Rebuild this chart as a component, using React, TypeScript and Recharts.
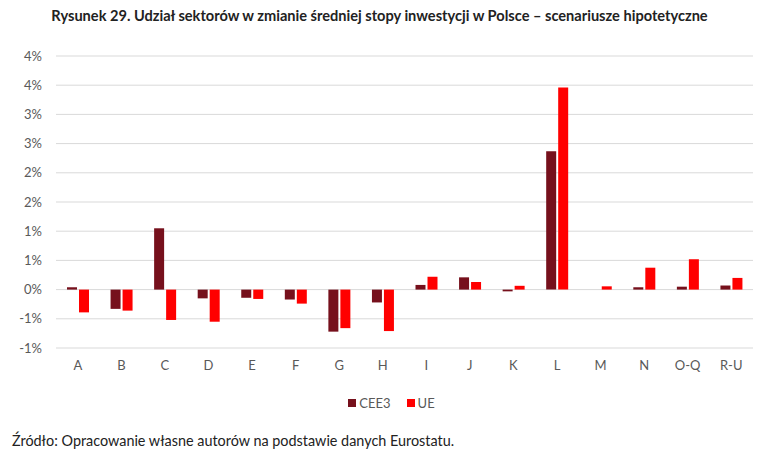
import { BarChart, Bar, XAxis, YAxis, CartesianGrid, Legend } from "recharts";

const categories = ["A", "B", "C", "D", "E", "F", "G", "H", "I", "J", "K", "L", "M", "N", "O-Q", "R-U"];
const cee3 = [0.04, -0.33, 1.05, -0.15, -0.14, -0.17, -0.72, -0.22, 0.08, 0.21, -0.03, 2.37, 0, 0.04, 0.05, 0.07];
const ue = [-0.39, -0.36, -0.52, -0.55, -0.16, -0.24, -0.66, -0.71, 0.22, 0.13, 0.065, 3.46, 0.056, 0.375, 0.52, 0.2];
const yTicks = [-1, -0.5, 0, 0.5, 1, 1.5, 2, 2.5, 3, 3.5, 4];

const data = categories.map((name, i) => ({ name, CEE3: cee3[i], UE: ue[i] }));

// excel-style rounding, 0.5 -> 1, -0.5 -> -1
const fmt = (v: number) => `${Math.sign(v) * Math.round(Math.abs(v))}%`;

const font = "Lato, 'Open Sans', sans-serif";

const LegendBox = ({ payload }: any) => (
  <div style={{ display: "flex", justifyContent: "center", gap: 16, fontSize: 13, color: "#595959", fontFamily: font }}>
    {(payload || []).map((p: any) => (
      <span key={p.value} style={{ display: "flex", alignItems: "center" }}>
        <span style={{ width: 8, height: 8, background: p.color, marginRight: 3 }} />
        {p.value}
      </span>
    ))}
  </div>
);

export default function App() {
  return (
    <div style={{ position: "absolute", left: 0, top: 0, width: 759, height: 459, background: "#fff", fontFamily: font }}>
      <div style={{ position: "absolute", top: 7, width: 759, textAlign: "center", fontWeight: 700, fontSize: 14.6, color: "#222" }}>
        Rysunek 29. Udział sektorów w zmianie średniej stopy inwestycji w Polsce – scenariusze hipotetyczne
      </div>
      <BarChart
        width={759}
        height={438}
        data={data}
        margin={{ top: 56, right: 6, left: 0, bottom: 44 }}
        barSize={10}
        barGap={2}
        style={{ position: "absolute", top: 0, left: 0 }}
      >
        <CartesianGrid vertical={false} stroke="#d9d9d9" strokeWidth={1} />
        <XAxis
          dataKey="name"
          axisLine={false}
          tickLine={false}
          interval={0}
          height={30}
          tickMargin={7}
          tick={{ fill: "#595959", fontSize: 13, fontFamily: font }}
        />
        <YAxis
          domain={[-1, 4]}
          ticks={yTicks}
          tickFormatter={fmt}
          axisLine={false}
          tickLine={false}
          width={56}
          tickMargin={8}
          interval={0}
          tick={{ fill: "#595959", fontSize: 13, fontFamily: font }}
        />
        <Legend
          content={<LegendBox />}
          wrapperStyle={{ top: 395, left: 12, width: 759 }}
        />
        <Bar dataKey="CEE3" fill="#76101c" isAnimationActive={false} />
        <Bar dataKey="UE" fill="#ff0000" isAnimationActive={false} />
      </BarChart>
      <div style={{ position: "absolute", top: 432, left: 12, fontSize: 14.4, color: "#222" }}>
        Źródło: Opracowanie własne autorów na podstawie danych Eurostatu.
      </div>
    </div>
  );
}
